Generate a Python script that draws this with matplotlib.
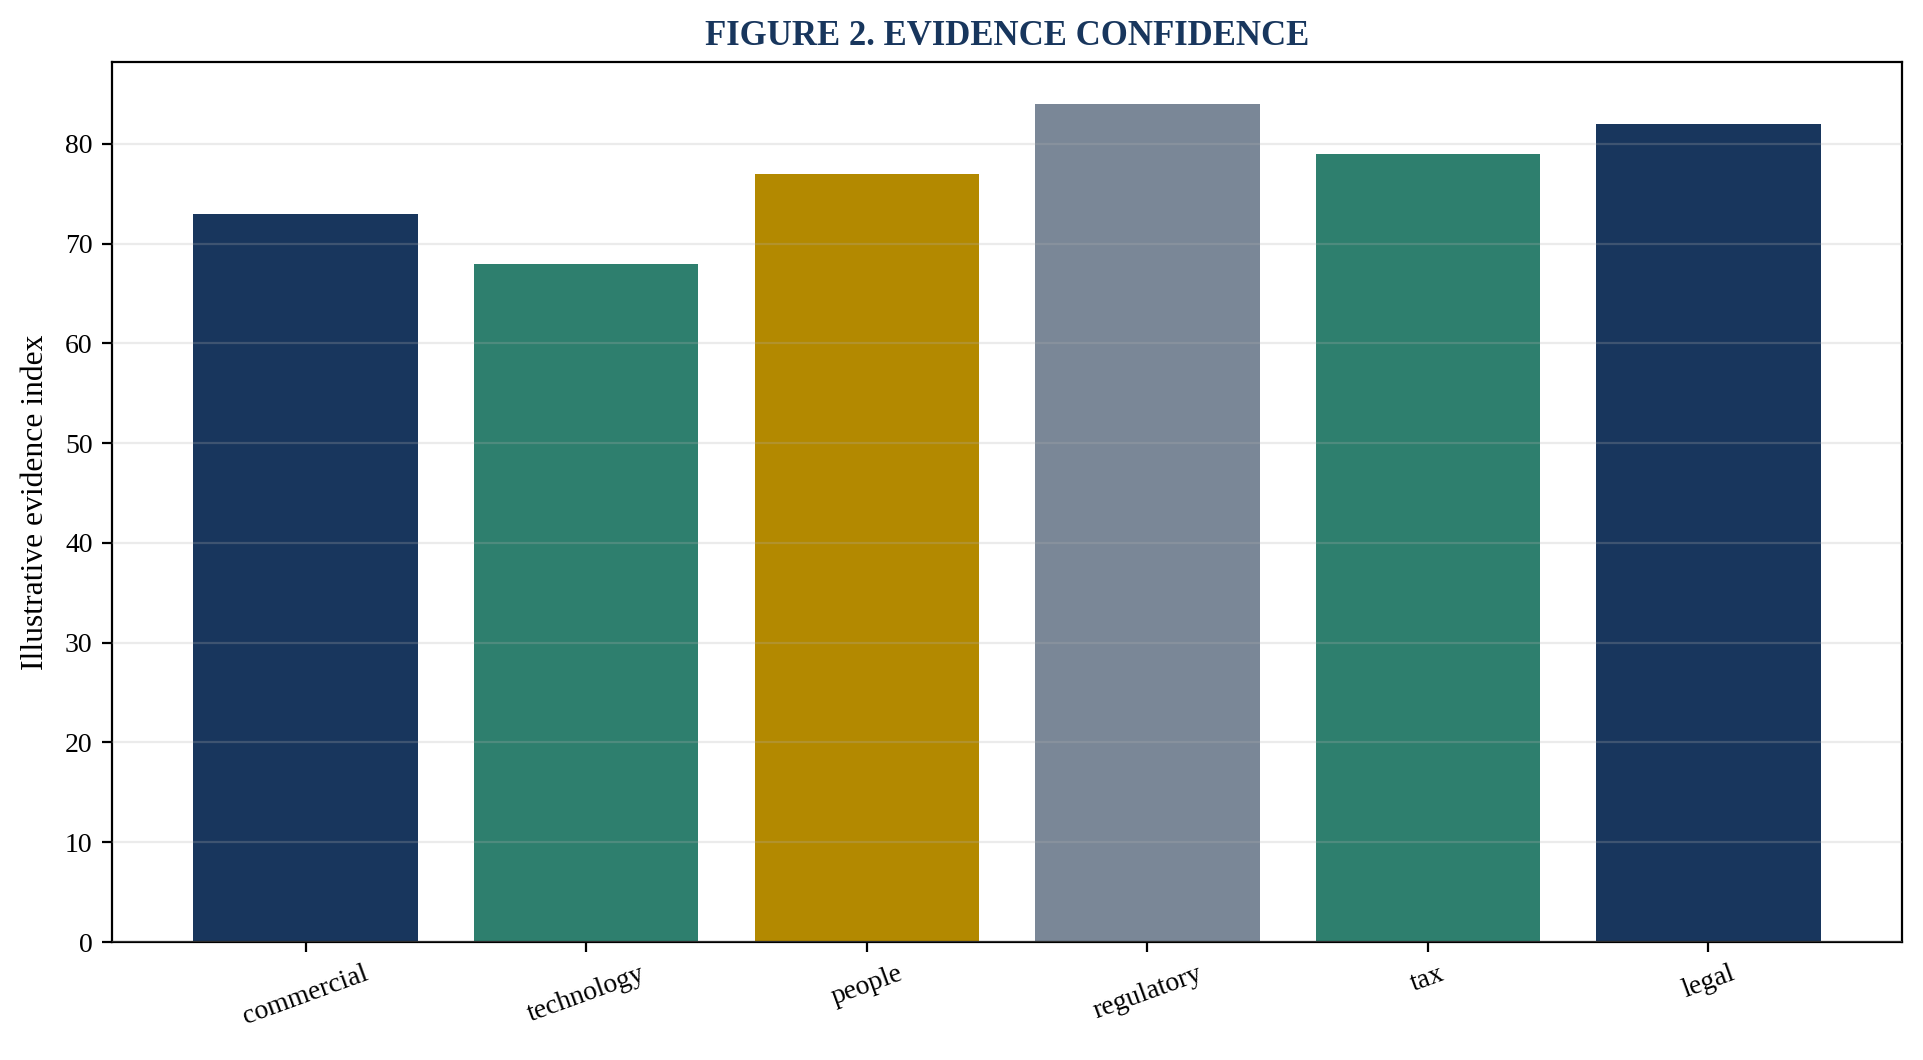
import numpy as np
import matplotlib
matplotlib.use('Agg')
import matplotlib.pyplot as plt

categories = ['commercial', 'technology', 'people', 'regulatory', 'tax', 'legal']
values = [73, 68, 77, 84, 79, 82]
colors = ['#18365d', '#2e7f6e', '#b38900', '#7a8797', '#2e7f6e', '#18365d']

plt.rcParams['font.family'] = ['Liberation Serif', 'DejaVu Serif']

fig, ax = plt.subplots(figsize=(1924 / 200, 1060 / 200), dpi=200)
fig.subplots_adjust(left=0.0582, right=0.9886, top=0.9415, bottom=0.1113)

x = np.arange(len(categories))
ax.bar(x, values, width=0.8, color=colors, zorder=1)
ax.set_ylim(0, max(values) * 1.05)

# grid sits on top of the bars, faint
ax.yaxis.grid(True, color='#b0b0b0', alpha=0.25, linewidth=0.8, zorder=2)
ax.set_axisbelow(False)

ax.set_xticks(x)
ax.set_xticklabels(categories, rotation=20, ha='center', fontsize=10)
ax.tick_params(axis='y', labelsize=10)
ax.set_ylabel('Illustrative evidence index', fontsize=11.4, labelpad=5.5)
ax.set_title('FIGURE 2. EVIDENCE CONFIDENCE', fontsize=12.5, fontweight='bold',
             color='#18365d')

fig.savefig('out.png', dpi=200)
